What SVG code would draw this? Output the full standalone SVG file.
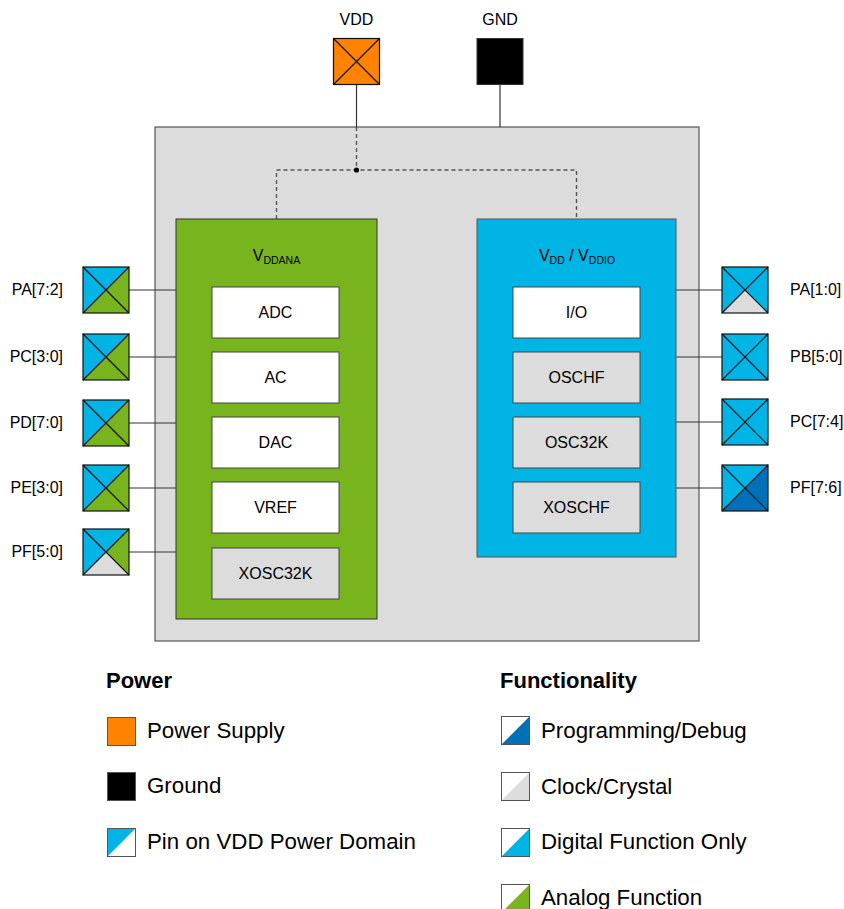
<svg xmlns="http://www.w3.org/2000/svg" xmlns:xlink="http://www.w3.org/1999/xlink" width="844" height="909" viewBox="0 0 844 909">
<style>
text{font-family:"Liberation Sans",Arial,sans-serif;fill:#000}
.lbl{font-size:16px}
.blk{font-size:16px;text-anchor:middle}
.leg{font-size:22.3px}
.hd{font-size:22px;font-weight:bold}
.wire{stroke:#333;stroke-width:1.2;fill:none}
.dash{stroke:#555;stroke-width:1.4;fill:none;stroke-dasharray:4 3}
.b{fill:#00b4e6}.g{fill:#78b41e}.k{fill:#dcdcdc}.d{fill:#0070b8}.w{fill:#fff}
.edge{fill:none;stroke:#111;stroke-width:1.2}
.inner{stroke:#444;stroke-width:1}
</style>
<defs>
<g id="x"><path d="M0,0L46,46M46,0L0,46" stroke="#111" stroke-width="1.2"/><rect x="0" y="0" width="46" height="46" class="edge"/></g>
<polygon id="tT" points="0,0 46,0 23,23"/>
<polygon id="tL" points="0,0 0,46 23,23"/>
<polygon id="tR" points="46,0 46,46 23,23"/>
<polygon id="tB" points="0,46 46,46 23,23"/>
</defs>
<rect x="0" y="0" width="844" height="909" fill="#fff"/>

<g id="chip"><rect x="155" y="127" width="544" height="514" fill="#dcdcdc" stroke="#555" stroke-width="1.2"/></g>

<g id="connectors">
<line class="wire" x1="356.5" y1="84" x2="356.5" y2="127"/>
<line class="wire" x1="500" y1="84" x2="500" y2="127"/>
<path class="dash" d="M356.5,127V170M276.5,219V170H576.5V219"/>
<circle cx="356.5" cy="170" r="2.6" fill="#000"/>
<line class="wire" x1="129" y1="290" x2="176" y2="290"/>
<line class="wire" x1="129" y1="357" x2="176" y2="357"/>
<line class="wire" x1="129" y1="423" x2="176" y2="423"/>
<line class="wire" x1="129" y1="488" x2="176" y2="488"/>
<line class="wire" x1="129" y1="552" x2="176" y2="552"/>
<line class="wire" x1="676" y1="290" x2="722" y2="290"/>
<line class="wire" x1="676" y1="357" x2="722" y2="357"/>
<line class="wire" x1="676" y1="422" x2="722" y2="422"/>
<line class="wire" x1="676" y1="488" x2="722" y2="488"/>
</g>

<g id="vdd">
<text class="blk" x="356.5" y="25">VDD</text>
<rect x="333.5" y="38.5" width="46" height="46" fill="#ff8200"/>
<use xlink:href="#x" x="333.5" y="38.5"/>
</g>
<g id="gnd">
<text class="blk" x="500" y="25">GND</text>
<rect x="477" y="38.5" width="46" height="46" fill="#000" stroke="#333" stroke-width="1"/>
</g>

<g id="vddana">
<rect x="176" y="219" width="201" height="400" fill="#78b41e" stroke="#333" stroke-width="1"/>
<text x="276.5" y="261" style="font-size:16px;text-anchor:middle">V<tspan dy="3" style="font-size:10.5px">DDANA</tspan></text>
</g>
<g id="adc"><rect class="inner" x="212" y="287" width="127" height="51" fill="#fff"/><text class="blk" x="275.5" y="318">ADC</text></g>
<g id="ac"><rect class="inner" x="212" y="352" width="127" height="51" fill="#fff"/><text class="blk" x="275.5" y="383">AC</text></g>
<g id="dac"><rect class="inner" x="212" y="417" width="127" height="51" fill="#fff"/><text class="blk" x="275.5" y="448">DAC</text></g>
<g id="vref"><rect class="inner" x="212" y="482" width="127" height="51" fill="#fff"/><text class="blk" x="275.5" y="513">VREF</text></g>
<g id="xosc32k"><rect class="inner" x="212" y="548" width="127" height="51" fill="#dcdcdc"/><text class="blk" x="275.5" y="579">XOSC32K</text></g>

<g id="vddio">
<rect x="477" y="219" width="199" height="338" fill="#00b4e6" stroke="#555" stroke-width="1"/>
<text x="577" y="261" style="font-size:16px;text-anchor:middle">V<tspan dy="3" style="font-size:10.5px">DD</tspan><tspan dy="-3"> / V</tspan><tspan dy="3" style="font-size:10.5px">DDIO</tspan></text>
</g>
<g id="io"><rect class="inner" x="513" y="287" width="127" height="51" fill="#fff"/><text class="blk" x="576.5" y="318">I/O</text></g>
<g id="oschf"><rect class="inner" x="513" y="352" width="127" height="51" fill="#dcdcdc"/><text class="blk" x="576.5" y="383">OSCHF</text></g>
<g id="osc32k"><rect class="inner" x="513" y="417" width="127" height="51" fill="#dcdcdc"/><text class="blk" x="576.5" y="448">OSC32K</text></g>
<g id="xoschf"><rect class="inner" x="513" y="482" width="127" height="51" fill="#dcdcdc"/><text class="blk" x="576.5" y="513">XOSCHF</text></g>

<g id="pin-pa72" transform="translate(83,267)"><use xlink:href="#tT" class="b"/><use xlink:href="#tL" class="b"/><use xlink:href="#tR" class="g"/><use xlink:href="#tB" class="g"/><use xlink:href="#x"/><text class="lbl" x="-20" y="28" text-anchor="end">PA[7:2]</text></g>
<g id="pin-pc30" transform="translate(83,334)"><use xlink:href="#tT" class="b"/><use xlink:href="#tL" class="b"/><use xlink:href="#tR" class="g"/><use xlink:href="#tB" class="g"/><use xlink:href="#x"/><text class="lbl" x="-20" y="28" text-anchor="end">PC[3:0]</text></g>
<g id="pin-pd70" transform="translate(83,400)"><use xlink:href="#tT" class="b"/><use xlink:href="#tL" class="b"/><use xlink:href="#tR" class="g"/><use xlink:href="#tB" class="g"/><use xlink:href="#x"/><text class="lbl" x="-20" y="28" text-anchor="end">PD[7:0]</text></g>
<g id="pin-pe30" transform="translate(83,465)"><use xlink:href="#tT" class="b"/><use xlink:href="#tL" class="b"/><use xlink:href="#tR" class="g"/><use xlink:href="#tB" class="g"/><use xlink:href="#x"/><text class="lbl" x="-20" y="28" text-anchor="end">PE[3:0]</text></g>
<g id="pin-pf50" transform="translate(83,529)"><use xlink:href="#tT" class="b"/><use xlink:href="#tL" class="b"/><use xlink:href="#tR" class="g"/><use xlink:href="#tB" class="k"/><use xlink:href="#x"/><text class="lbl" x="-20" y="28" text-anchor="end">PF[5:0]</text></g>

<g id="pin-pa10" transform="translate(722,267)"><use xlink:href="#tT" class="b"/><use xlink:href="#tL" class="b"/><use xlink:href="#tR" class="b"/><use xlink:href="#tB" class="k"/><use xlink:href="#x"/><text class="lbl" x="68" y="28">PA[1:0]</text></g>
<g id="pin-pb50" transform="translate(722,334)"><use xlink:href="#tT" class="b"/><use xlink:href="#tL" class="b"/><use xlink:href="#tR" class="b"/><use xlink:href="#tB" class="b"/><use xlink:href="#x"/><text class="lbl" x="68" y="28">PB[5:0]</text></g>
<g id="pin-pc74" transform="translate(722,399)"><use xlink:href="#tT" class="b"/><use xlink:href="#tL" class="b"/><use xlink:href="#tR" class="b"/><use xlink:href="#tB" class="b"/><use xlink:href="#x"/><text class="lbl" x="68" y="28">PC[7:4]</text></g>
<g id="pin-pf76" transform="translate(722,465)"><use xlink:href="#tT" class="b"/><use xlink:href="#tL" class="b"/><use xlink:href="#tR" class="d"/><use xlink:href="#tB" class="d"/><use xlink:href="#x"/><text class="lbl" x="68" y="28">PF[7:6]</text></g>

<g id="legend-power">
<text class="hd" x="106" y="688">Power</text>
<rect x="107.5" y="717.5" width="28" height="28" fill="#ff8200" stroke="#555" stroke-width="1"/>
<text class="leg" x="147" y="738">Power Supply</text>
<rect x="107.5" y="772.5" width="28" height="28" fill="#000" stroke="#555" stroke-width="1"/>
<text class="leg" x="147" y="793">Ground</text>
<rect x="107.5" y="828.5" width="28" height="28" fill="#fff"/>
<polygon points="107.5,828.5 135.5,828.5 107.5,856.5" fill="#00b4e6"/>
<rect x="107.5" y="828.5" width="28" height="28" fill="none" stroke="#555" stroke-width="1"/>
<text class="leg" x="147" y="849">Pin on VDD Power Domain</text>
</g>

<g id="legend-func">
<text class="hd" x="500" y="688">Functionality</text>
<rect x="501.5" y="716.5" width="28" height="28" fill="#fff"/>
<polygon points="529.5,716.5 529.5,744.5 501.5,744.5" fill="#0070b8"/>
<rect x="501.5" y="716.5" width="28" height="28" fill="none" stroke="#555" stroke-width="1"/>
<text class="leg" x="541" y="738">Programming/Debug</text>
<rect x="501.5" y="772.5" width="28" height="28" fill="#fff"/>
<polygon points="529.5,772.5 529.5,800.5 501.5,800.5" fill="#dcdcdc"/>
<rect x="501.5" y="772.5" width="28" height="28" fill="none" stroke="#555" stroke-width="1"/>
<text class="leg" x="541" y="794">Clock/Crystal</text>
<rect x="501.5" y="828.5" width="28" height="28" fill="#fff"/>
<polygon points="529.5,828.5 529.5,856.5 501.5,856.5" fill="#00b4e6"/>
<rect x="501.5" y="828.5" width="28" height="28" fill="none" stroke="#555" stroke-width="1"/>
<text class="leg" x="541" y="849">Digital Function Only</text>
<rect x="501.5" y="884.5" width="28" height="28" fill="#fff"/>
<polygon points="529.5,884.5 529.5,912.5 501.5,912.5" fill="#78b41e"/>
<rect x="501.5" y="884.5" width="28" height="28" fill="none" stroke="#555" stroke-width="1"/>
<text class="leg" x="541" y="905">Analog Function</text>
</g>
</svg>
